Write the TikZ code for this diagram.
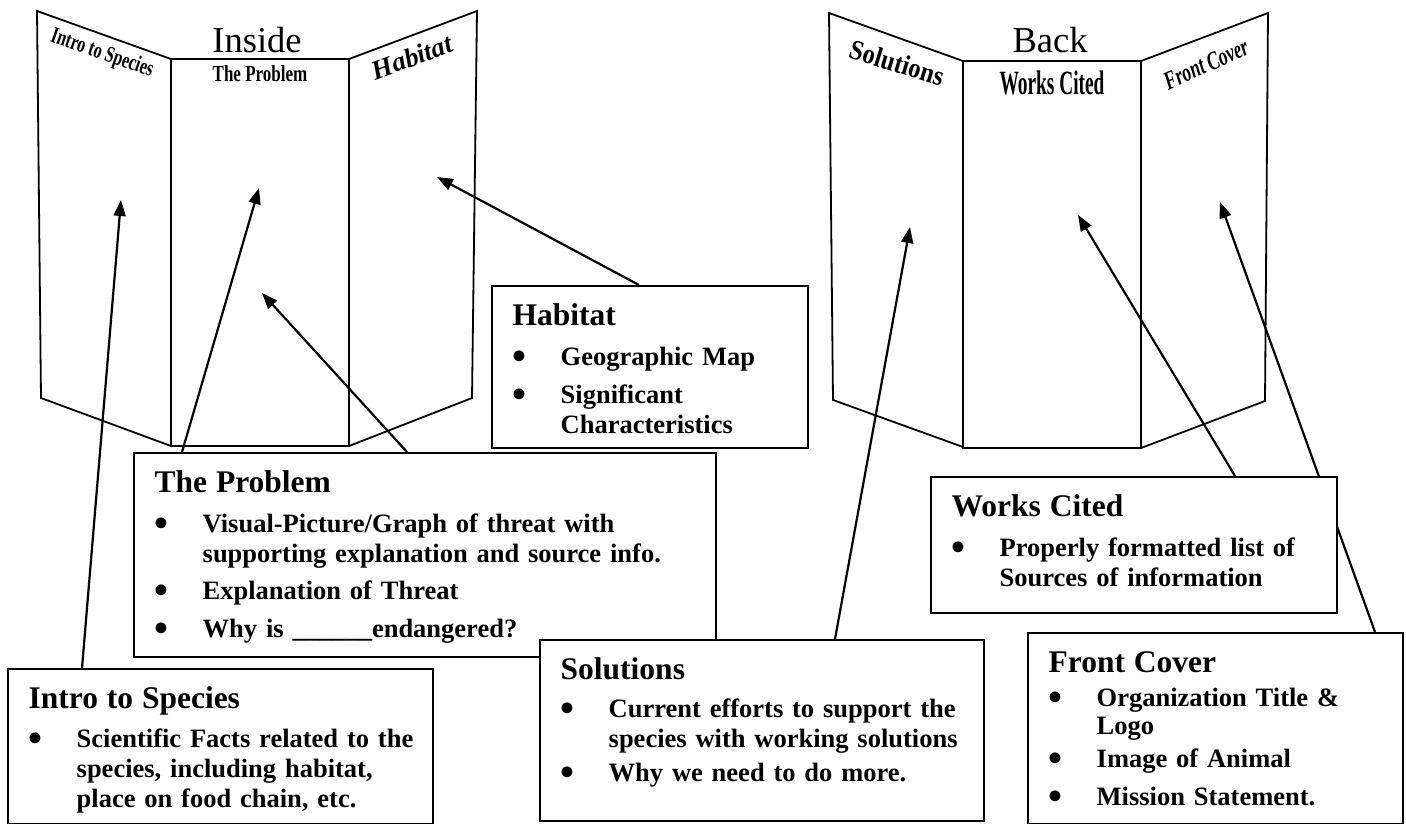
\documentclass[tikz,border=0pt]{standalone}
\usepackage{fontspec}
\setmainfont{Liberation Serif}
\usepackage{graphicx}
\usetikzlibrary{arrows.meta,calc,positioning,backgrounds}

\newlength{\bulletHang}
\setlength{\bulletHang}{48pt}
\newcommand{\headFont}{\fontsize{31.5}{30}\selectfont}
\newcommand{\boxHead}[1]{\noindent{\headFont\rule{0pt}{40pt}#1}}
\newcommand{\bulletItem}[2][7.5pt]{\par\vspace{#1}\noindent\makebox[\bulletHang][l]{\raisebox{-4pt}{\scalebox{1.5}{\textbullet}}}#2}
\newcommand{\contLine}[1]{\par\noindent\hspace*{\bulletHang}#1}

\tikzset{%
  panelLine/.style={%
    line width=1.8pt,
    line join=miter
  },
  infoBox/.style={%
    rectangle,
    draw=black,
    fill=white,
    line width=2pt,
    inner sep=0pt,
    anchor=north west
  },
  infoText/.style={%
    anchor=north west,
    inner sep=0pt,
    align=left,
    text width=#1,
    font=\bfseries\fontsize{26.5}{30}\selectfont
  },
  arrowLine/.style={%
    -{Triangle[length=16pt,width=12pt]},
    line width=2.2pt
  },
  panelTitle/.style={%
    font=\fontsize{36.5}{40}\selectfont,
    inner sep=0pt,
    anchor=base
  },
  panelHead/.style={%
    font=\bfseries,
    inner sep=0pt
  }
}

\begin{document}
\begin{tikzpicture}[x=1pt,y=-1pt]
  \useasboundingbox (0,0) rectangle (1406,824);

  % inside trifold
  \draw[panelLine] (37,11) -- (171,59) -- (171,446) -- (41,398) -- cycle;
  \draw[panelLine] (171,59) rectangle (349,446);
  \draw[panelLine] (349,59) -- (477,11) -- (472,398) -- (349,446);
  % back trifold
  \draw[panelLine] (829,13) -- (963,61) -- (963,447) -- (833,400) -- cycle;
  \draw[panelLine] (963,61) rectangle (1141,448);
  \draw[panelLine] (1141,61) -- (1268,13) -- (1265,401) -- (1141,448);

  \node[panelTitle] (inside) at (257,53) {Inside};
  \node[panelTitle] (back) at (1050,53) {Back};

  \node[panelHead, rotate=-19] (introHead) at (102,54) {\fontsize{23}{23}\selectfont\scalebox{0.7}[1]{Intro to Species}};
  \node[panelHead, anchor=base] (probHead) at (260,82) {\fontsize{23}{23}\selectfont\scalebox{0.74}[1]{The Problem}};
  \node[panelHead, rotate=20] (habHead) at (412,57) {\fontsize{27}{27}\selectfont\itshape Habitat};
  \node[panelHead, rotate=-17] (solHead) at (897,63) {\fontsize{28}{28}\selectfont\scalebox{0.88}[1]{Solutions}};
  \node[panelHead, anchor=base] (worksHead) at (1052,95) {\fontsize{34}{34}\selectfont\scalebox{0.57}[1]{Works Cited}};
  \node[panelHead, rotate=24] (frontHead) at (1206,64) {\fontsize{26}{26}\selectfont\itshape\scalebox{0.68}[1]{Front Cover}};

  \coordinate (introTip) at (121,200);
  \coordinate (probTipA) at (259,188);
  \coordinate (probTipB) at (262,293);
  \coordinate (habTip) at (437,177);
  \coordinate (solTip) at (910,227);
  \coordinate (worksTip) at (1078,215);
  \coordinate (frontTip) at (1220,202);

  \node[infoBox, minimum width=316pt, minimum height=162pt] (habBox) at (491,285) {};
  \node[infoText=290pt] (habText) at ($(habBox.north west)+(21.5,0)$)
    {\boxHead{Habitat}\bulletItem[10pt]{Geographic Map}\bulletItem[8pt]{Significant}\contLine{Characteristics}};

  \node[infoBox, minimum width=582pt, minimum height=204pt] (probBox) at (133,452) {};
  \node[infoText=555pt] (probText) at ($(probBox.north west)+(21.5,0)$)
    {\boxHead{The Problem}\bulletItem[10pt]{Visual-Picture/Graph of threat with}\contLine{supporting explanation and source info.}\bulletItem{Explanation of Threat}\bulletItem{Why is \_\_\_\_\_\_endangered?}};

  \node[infoBox, minimum width=425pt, minimum height=155pt] (introBox) at (7,668) {};
  \node[infoText=400pt] (introText) at ($(introBox.north west)+(21.5,0)$)
    {\boxHead{Intro to Species}\bulletItem[9pt]{Scientific Facts related to the}\contLine{species, including habitat,}\contLine{place on food chain, etc.}};

  \node[infoBox, minimum width=444pt, minimum height=181pt] (solBox) at (539,639) {};
  \node[infoText=420pt] (solText) at ($(solBox.north west)+(21.5,0)$)
    {\boxHead{Solutions}\bulletItem[8pt]{Current efforts to support the}\contLine{species with working solutions}\bulletItem[4pt]{Why we need to do more.}};

  \node[infoBox, minimum width=406pt, minimum height=136pt] (worksBox) at (930,476) {};
  \node[infoText=380pt] (worksText) at ($(worksBox.north west)+(21.5,0)$)
    {\boxHead{Works Cited}\bulletItem[10pt]{Properly formatted list of}\contLine{Sources of information}};

  \node[infoBox, minimum width=375pt, minimum height=191pt] (frontBox) at (1027,632) {};
  \node[infoText=350pt, font=\bfseries\fontsize{26.5}{28}\selectfont] (frontText) at ($(frontBox.north west)+(21.5,0)$)
    {\boxHead{Front Cover}\bulletItem[6pt]{Organization Title \&}\contLine{Logo}\bulletItem[5pt]{Image of Animal}\bulletItem[10pt]{Mission Statement.}};

  \begin{scope}[on background layer]
    \draw[arrowLine] ($(introBox.north west)+(75,0)$) -- (introTip);
    \draw[arrowLine] ($(probBox.north west)+(49,0)$) -- (probTipA);
    \draw[arrowLine] ($(probBox.north west)+(274,0)$) -- (probTipB);
    \draw[arrowLine] ($(habBox.north west)+(148,0)$) -- (habTip);
    \draw[arrowLine] ($(solBox.north west)+(296,0)$) -- (solTip);
    \draw[arrowLine] ($(worksBox.north west)+(305,0)$) -- (worksTip);
    \draw[arrowLine] ($(frontBox.north west)+(348,0)$) -- (frontTip);
  \end{scope}
\end{tikzpicture}
\end{document}
